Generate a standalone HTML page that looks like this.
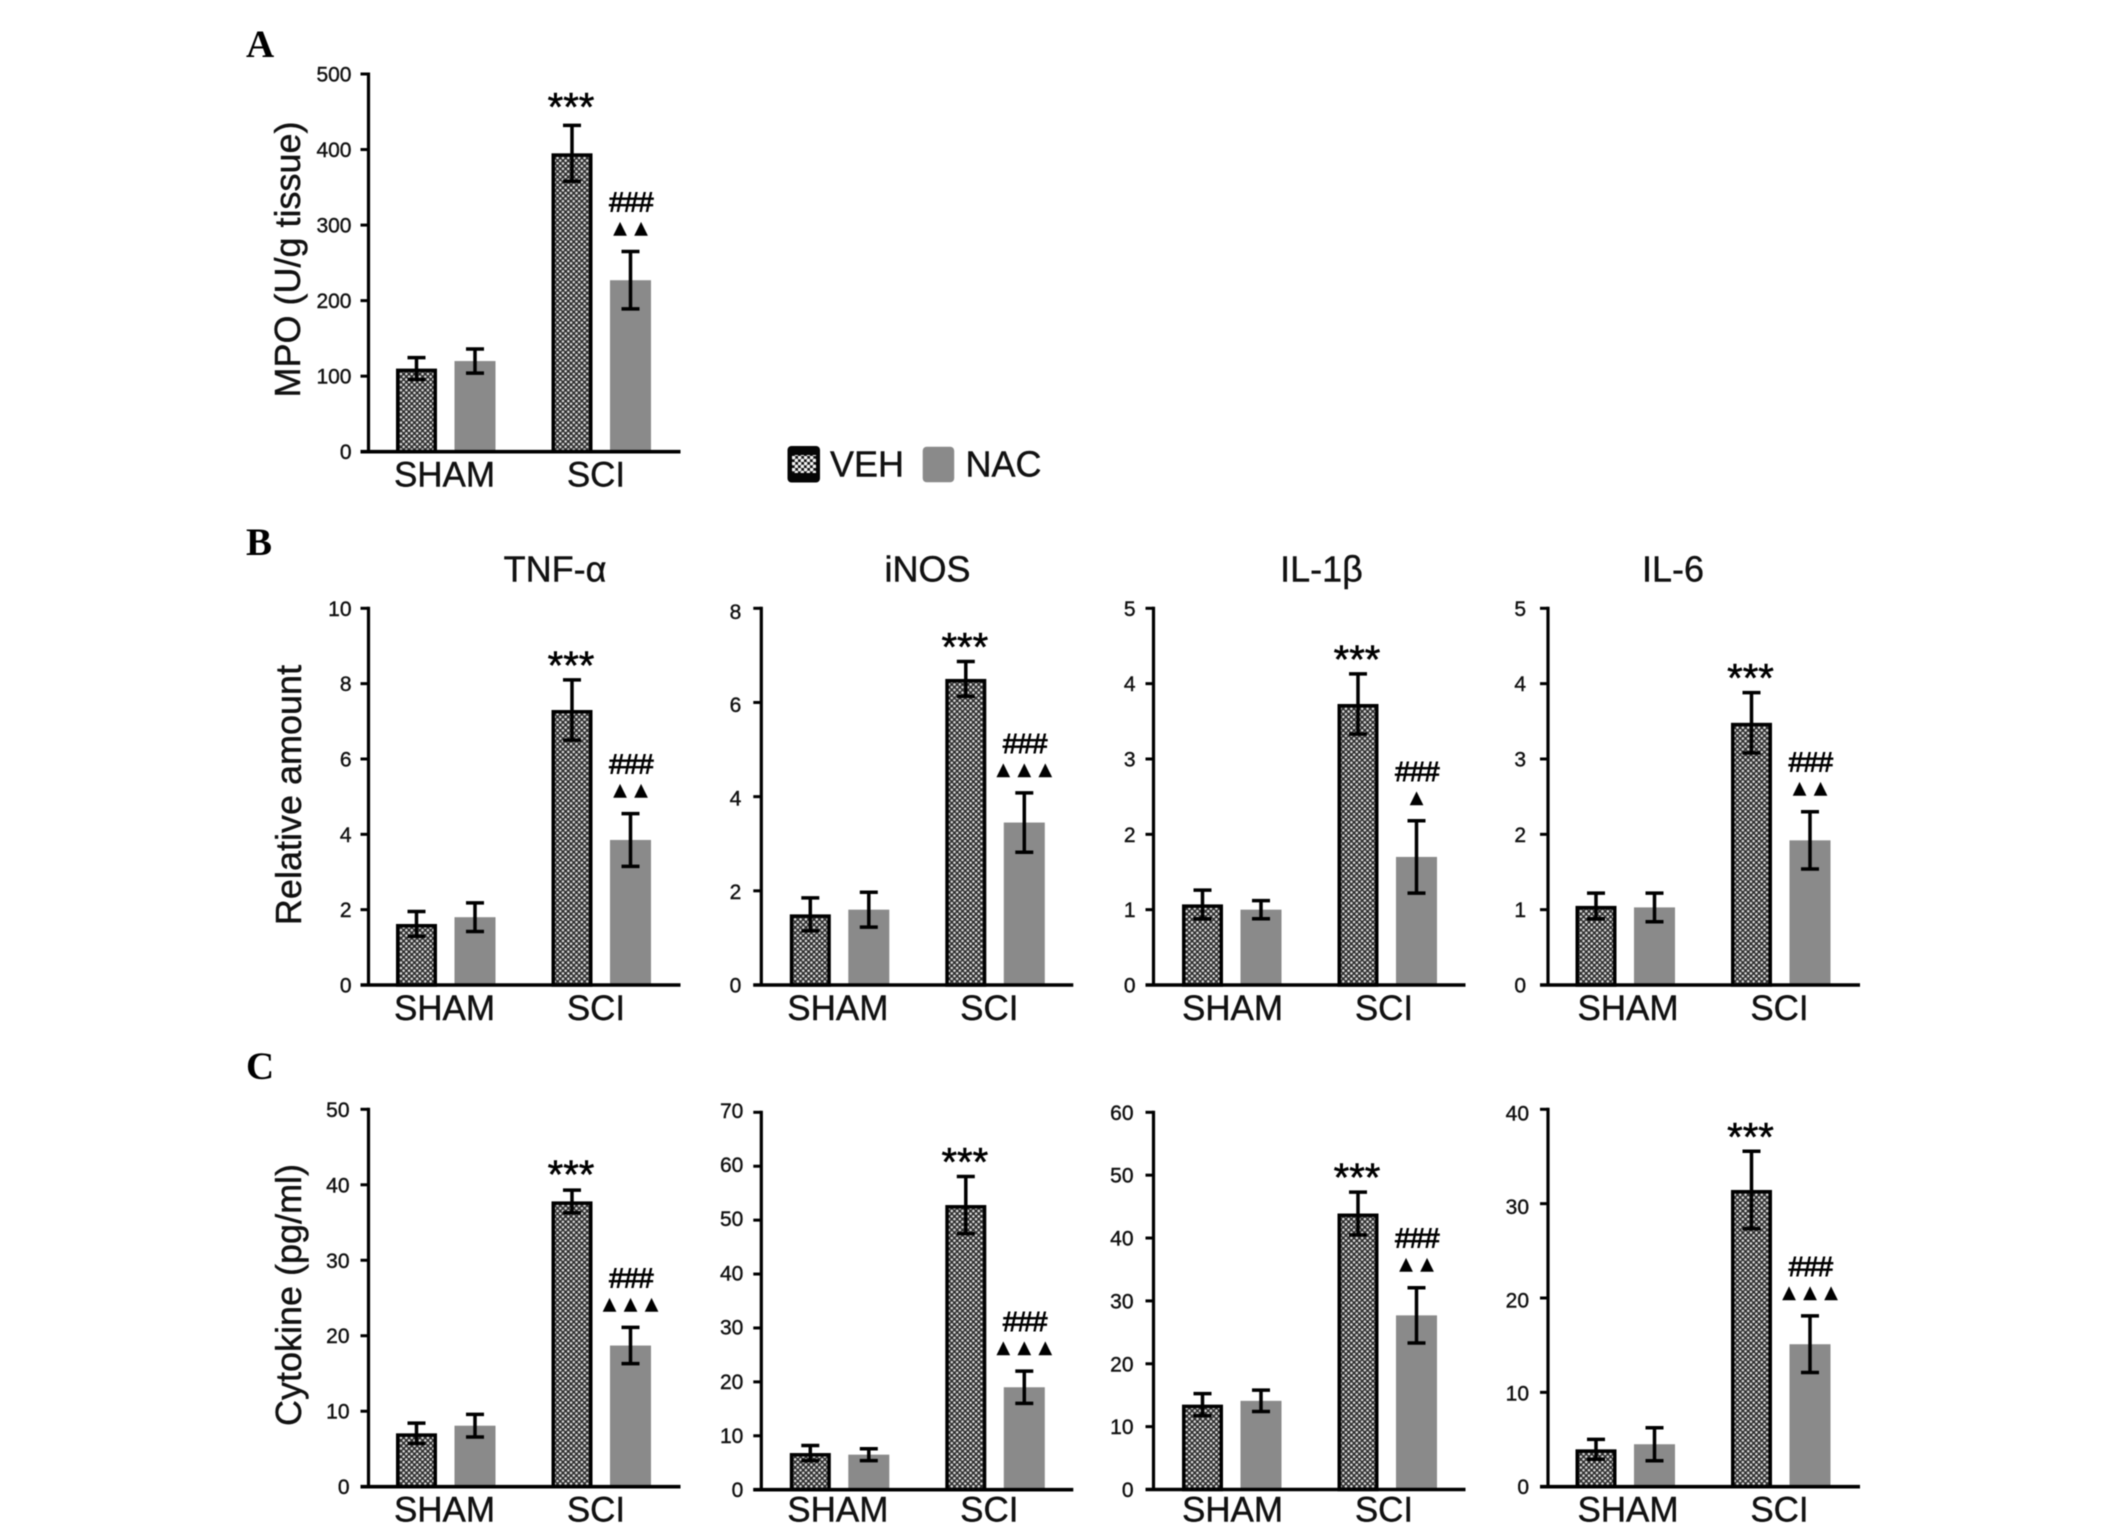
<!DOCTYPE html>
<html lang="en">
<head>
<meta charset="utf-8">
<title>MPO and cytokine levels: VEH vs NAC</title>
<style>
html,body{margin:0;padding:0;background:#fff;}
svg{display:block;filter:blur(0.5px);}
text{font-family:"Liberation Sans",sans-serif;fill:#111;stroke:#111;stroke-width:0.4px;}
.letter{font-family:"Liberation Serif",serif;font-weight:bold;font-size:39px;fill:#000;stroke:none;}
.ytitle{font-size:36px;text-anchor:middle;}
.ptitle{font-size:36px;text-anchor:middle;}
.legend{font-size:36px;}
</style>
</head>
<body>
<svg id="figure" xmlns="http://www.w3.org/2000/svg" width="2126" height="1536" viewBox="0 0 2126 1536">
  <defs>
    <pattern id="dither" patternUnits="userSpaceOnUse" width="5.4" height="5.4">
      <rect width="5.4" height="5.4" fill="#2e2e2e"/>
      <circle cx="1.35" cy="1.35" r="1.25" fill="#e2e2e2"/>
      <circle cx="4.05" cy="4.05" r="1.25" fill="#e2e2e2"/>
    </pattern>
    <pattern id="dither-legend" patternUnits="userSpaceOnUse" width="6" height="6">
      <rect width="6" height="6" fill="#111"/>
      <circle cx="1.5" cy="1.5" r="1.9" fill="#f4f4f4"/>
      <circle cx="4.5" cy="4.5" r="1.9" fill="#f4f4f4"/>
    </pattern>
  </defs>

  <text class="letter" x="246" y="57">A</text>
  <text class="letter" x="246" y="555">B</text>
  <text class="letter" x="246" y="1079">C</text>

  <text class="ytitle" transform="translate(300,259.5) rotate(-90)">MPO (U/g tissue)</text>
  <text class="ytitle" transform="translate(301,795) rotate(-90)">Relative amount</text>
  <text class="ytitle" transform="translate(301,1295) rotate(-90)">Cytokine (pg/ml)</text>

  <text class="ptitle" x="555" y="581.7">TNF-α</text>
  <text class="ptitle" x="927.5" y="581.7">iNOS</text>
  <text class="ptitle" x="1321.5" y="581.7">IL-1β</text>
  <text class="ptitle" x="1673" y="581.7">IL-6</text>

  <g>
    <g>
      <rect x="787.5" y="446" width="32.5" height="36.5" rx="4" fill="#050505"/>
      <rect x="792" y="455" width="24" height="18" fill="url(#dither-legend)"/>
      <text class="legend" x="830" y="476.7">VEH</text>
    </g>
    <g>
      <rect x="922.7" y="446.7" width="31.5" height="35.6" rx="4" fill="#8a8a8a"/>
      <text class="legend" x="965.5" y="476.7">NAC</text>
    </g>
  </g>

  <g id="charts"></g>
</svg>

<script>
const categories = ['SHAM', 'SCI'];

const mpoTicks = [0, 100, 200, 300, 400, 500];
const mpoVeh = [110, 395];
const mpoVehErr = [14.5, 37];
const mpoNac = [120, 227];
const mpoNacErr = [16, 38];
const mpoTriangles = 2;

const tnfRelTicks = [0, 2, 4, 6, 8, 10];
const tnfRelVeh = [1.62, 7.3];
const tnfRelVehErr = [0.33, 0.8];
const tnfRelNac = [1.8, 3.85];
const tnfRelNacErr = [0.38, 0.7];
const tnfRelTriangles = 2;

const inosRelTicks = [0, 2, 4, 6, 8];
const inosRelVeh = [1.5, 6.5];
const inosRelVehErr = [0.35, 0.37];
const inosRelNac = [1.6, 3.45];
const inosRelNacErr = [0.37, 0.63];
const inosRelTriangles = 3;

const il1RelTicks = [0, 1, 2, 3, 4, 5];
const il1RelVeh = [1.07, 3.73];
const il1RelVehErr = [0.19, 0.4];
const il1RelNac = [1.0, 1.7];
const il1RelNacErr = [0.12, 0.48];
const il1RelTriangles = 1;

const il6RelTicks = [0, 1, 2, 3, 4, 5];
const il6RelVeh = [1.05, 3.48];
const il6RelVehErr = [0.17, 0.4];
const il6RelNac = [1.03, 1.92];
const il6RelNacErr = [0.19, 0.38];
const il6RelTriangles = 2;

const tnfPgTicks = [0, 10, 20, 30, 40, 50];
const tnfPgVeh = [7.07, 37.8];
const tnfPgVehErr = [1.35, 1.5];
const tnfPgNac = [8.08, 18.7];
const tnfPgNacErr = [1.5, 2.4];
const tnfPgTriangles = 3;

const inosPgTicks = [0, 10, 20, 30, 40, 50, 60, 70];
const inosPgVeh = [6.8, 52.8];
const inosPgVehErr = [1.4, 5.3];
const inosPgNac = [6.5, 19];
const inosPgNacErr = [1.1, 3];
const inosPgTriangles = 3;

const il1PgTicks = [0, 10, 20, 30, 40, 50, 60];
const il1PgVeh = [13.5, 43.9];
const il1PgVehErr = [1.75, 3.4];
const il1PgNac = [14.1, 27.7];
const il1PgNacErr = [1.7, 4.4];
const il1PgTriangles = 2;

const il6PgTicks = [0, 10, 20, 30, 40];
const il6PgVeh = [3.96, 31.45];
const il6PgVehErr = [1.05, 4.1];
const il6PgNac = [4.5, 15.1];
const il6PgNacErr = [1.75, 3];
const il6PgTriangles = 3;

const SVGNS = 'http://www.w3.org/2000/svg';

function make(parent, tag, attrs, text) {
  const node = document.createElementNS(SVGNS, tag);
  for (const key in attrs) node.setAttribute(key, attrs[key]);
  if (text !== undefined) node.textContent = text;
  parent.appendChild(node);
  return node;
}

function drawPanel(p) {
  const root = document.getElementById('charts');
  const maxTick = p.ticks[p.ticks.length - 1];
  const yOf = function (v) { return p.base - (v / maxTick) * (p.base - p.top); };
  const barDx = p.barDx || 0;
  const groupOffsets = [27.5 + barDx, 183 + barDx];
  const seriesStep = 58.5;
  const barWidth = 41;

  const g = make(root, 'g', {});
  
  

  // bars
  p.veh.forEach(function (v, i) {
    const left = p.x + groupOffsets[i];
    const bar = make(g, 'rect', {
      x: left + 1.75, y: yOf(v) + 1.75, width: barWidth - 3.5, height: p.base - yOf(v) - 1.75,
      fill: 'url(#dither)', stroke: '#000', 'stroke-width': 3.5
    });
    
    
  });
  p.nac.forEach(function (v, i) {
    const left = p.x + groupOffsets[i] + seriesStep;
    const bar = make(g, 'rect', {
      x: left, y: yOf(v), width: barWidth, height: p.base - yOf(v), fill: '#8a8a8a'
    });
    
    
  });

  // error bars
  function drawError(values, errors, shift, series) {
    values.forEach(function (v, i) {
      const cx = p.x + groupOffsets[i] + shift + barWidth / 2;
      const hi = yOf(v + errors[i]);
      const lo = yOf(v - errors[i]);
      const path = make(g, 'path', {
        d: 'M' + cx + ' ' + hi + 'V' + lo + 'M' + (cx - 9) + ' ' + hi + 'H' + (cx + 9) + 'M' + (cx - 9) + ' ' + lo + 'H' + (cx + 9),
        fill: 'none', stroke: '#000', 'stroke-width': 3.5
      });
      
      
    });
  }
  drawError(p.veh, p.vehErr, 0, 'veh');
  drawError(p.nac, p.nacErr, seriesStep, 'nac');

  // significance marks on the SCI group
  const vehCx = p.x + groupOffsets[1] + barWidth / 2;
  const nacCx = vehCx + seriesStep;
  const stars = make(g, 'text', {
    x: vehCx - 1, y: yOf(p.veh[1] + p.vehErr[1]) - p.starGap + 20,
    'text-anchor': 'middle', style: 'font-size:40px;fill:#000;stroke:#000;stroke-width:0.6px'
  }, '***');
  
  

  const nacTop = yOf(p.nac[1] + p.nacErr[1]);
  const hashes = make(g, 'text', {
    x: nacCx + 0.5, y: nacTop - 50 + 10,
    'text-anchor': 'middle', style: 'font-size:27.5px;letter-spacing:-0.7px;fill:#000;stroke:#000;stroke-width:0.9px'
  }, '###');
  
  

  for (let t = 0; t < p.triangles; t++) {
    const tx = nacCx + (t - (p.triangles - 1) / 2) * 21;
    const tri = make(g, 'text', {
      x: tx, y: nacTop - 21.5 + 3.5,
      'text-anchor': 'middle', style: 'font-family:\'DejaVu Sans\',sans-serif;font-size:18px;fill:#000;stroke:none'
    }, '▲');
    
    
  }

  // y axis, ticks and tick labels
  const yAxis = make(g, 'line', {
    x1: p.x, x2: p.x, y1: p.top - 1.5, y2: p.base, stroke: '#000', 'stroke-width': 3.2
  });
  
  

  const labelSkew = p.labelSkew || 0;
  p.ticks.forEach(function (t) {
    const tick = make(g, 'line', {
      x1: p.x - 8, x2: p.x, y1: yOf(t), y2: yOf(t), stroke: '#000', 'stroke-width': 3
    });
    
    

    const label = make(g, 'text', {
      x: p.x - p.labelGap, y: yOf(t) + 7.5 + labelSkew * (t / maxTick), 'text-anchor': 'end', style: 'font-size:21px'
    }, String(t));
    
    
  });

  // x axis and category labels
  const xAxis = make(g, 'line', {
    x1: p.x - 8, x2: p.x + 312, y1: p.base, y2: p.base, stroke: '#000', 'stroke-width': 3.6
  });
  
  

  const categoryCentres = [76 + (p.catDx || 0), 227.5 + (p.catDx || 0)];
  categories.forEach(function (c, i) {
    const label = make(g, 'text', {
      x: p.x + categoryCentres[i], y: p.catY, 'text-anchor': 'middle', style: 'font-size:35px'
    }, c);
    
    
  });
}

drawPanel({name:'mpo', x:368.5, top:74, base:451.7, catY:486.7, labelGap:17, starGap:25, ticks:mpoTicks, veh:mpoVeh, vehErr:mpoVehErr, nac:mpoNac, nacErr:mpoNacErr, triangles:mpoTriangles});
drawPanel({name:'tnf-relative', x:368.5, top:608.3, base:985, catY:1020, labelGap:17, starGap:21, ticks:tnfRelTicks, veh:tnfRelVeh, vehErr:tnfRelVehErr, nac:tnfRelNac, nacErr:tnfRelNacErr, triangles:tnfRelTriangles});
drawPanel({name:'inos-relative', x:761.3, top:608.3, base:985, catY:1020, labelGap:20, starGap:21, barDx:1, catDx:0.5, labelSkew:3, ticks:inosRelTicks, veh:inosRelVeh, vehErr:inosRelVehErr, nac:inosRelNac, nacErr:inosRelNacErr, triangles:inosRelTriangles});
drawPanel({name:'il-1-relative', x:1153.5, top:608.3, base:985, catY:1020, labelGap:18, starGap:21, barDx:1, catDx:3, ticks:il1RelTicks, veh:il1RelVeh, vehErr:il1RelVehErr, nac:il1RelNac, nacErr:il1RelNacErr, triangles:il1RelTriangles});
drawPanel({name:'il-6-relative', x:1548, top:608.3, base:985, catY:1020, labelGap:22, starGap:21, catDx:4, ticks:il6RelTicks, veh:il6RelVeh, vehErr:il6RelVehErr, nac:il6RelNac, nacErr:il6RelNacErr, triangles:il6RelTriangles});
drawPanel({name:'tnf-pg', x:368.5, top:1109.3, base:1486.7, catY:1521.7, labelGap:19, starGap:22, ticks:tnfPgTicks, veh:tnfPgVeh, vehErr:tnfPgVehErr, nac:tnfPgNac, nacErr:tnfPgNacErr, triangles:tnfPgTriangles});
drawPanel({name:'inos-pg', x:761.3, top:1112.3, base:1489.7, catY:1521.7, labelGap:18, starGap:21, barDx:1, catDx:0.5, labelSkew:-2, ticks:inosPgTicks, veh:inosPgVeh, vehErr:inosPgVehErr, nac:inosPgNac, nacErr:inosPgNacErr, triangles:inosPgTriangles});
drawPanel({name:'il-1-pg', x:1153.5, top:1112.3, base:1489.5, catY:1521.7, labelGap:20, starGap:21, barDx:1, catDx:3, ticks:il1PgTicks, veh:il1PgVeh, vehErr:il1PgVehErr, nac:il1PgNac, nacErr:il1PgNacErr, triangles:il1PgTriangles});
drawPanel({name:'il-6-pg', x:1548, top:1109.3, base:1486.7, catY:1521.7, labelGap:19, starGap:21, catDx:4, labelSkew:3.5, ticks:il6PgTicks, veh:il6PgVeh, vehErr:il6PgVehErr, nac:il6PgNac, nacErr:il6PgNacErr, triangles:il6PgTriangles});
</script>
</body>
</html>
